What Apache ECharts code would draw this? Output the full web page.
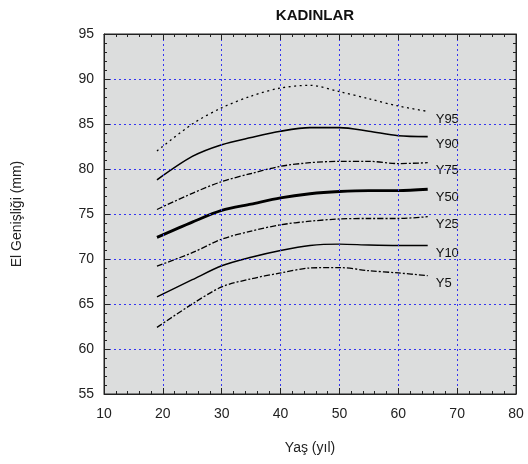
<!DOCTYPE html>
<html>
<head>
<meta charset="utf-8">
<script src="https://cdn.jsdelivr.net/npm/echarts@6/dist/echarts.min.js"></script>
<style>
  html, body { margin: 0; padding: 0; background: #fff; }
  #chart { width: 528px; height: 464px; }
</style>
</head>
<body>
<div id="chart"></div>
<script>
// yaş noktaları
var ages = [19, 25, 30, 35, 40, 45, 50, 55, 60, 65]
// persentil eğrileri (mm)
var y95 = [82.0, 85.0, 86.8, 88.1, 89.0, 89.3, 88.6, 87.8, 87.0, 86.4]
var y90 = [78.8, 81.4, 82.7, 83.5, 84.2, 84.6, 84.6, 84.2, 83.7, 83.6]
var y75 = [75.5, 77.3, 78.6, 79.5, 80.3, 80.7, 80.85, 80.85, 80.6, 80.7]
var y50 = [72.4, 74.1, 75.4, 76.1, 76.8, 77.25, 77.5, 77.6, 77.6, 77.75]
var y25 = [69.2, 70.7, 72.2, 73.1, 73.8, 74.2, 74.45, 74.5, 74.5, 74.7]
var y10 = [65.8, 67.7, 69.25, 70.2, 70.95, 71.5, 71.65, 71.55, 71.5, 71.5]
var y5 = [62.4, 65.0, 66.9, 67.8, 68.45, 69.0, 69.05, 68.7, 68.45, 68.15]

var font = 'Liberation Sans, Arial, sans-serif'

function pairs(vals) {
    return ages.map(function (a, i) { return [a, vals[i]] })
}

// çizgi tipi ve kalınlığı
function curve(name, vals, width, dash) {
    return {
        name: name,
        type: 'line',
        data: pairs(vals),
        smooth: 0.3,
        symbol: 'none',
        lineStyle: { color: '#000', width: width, type: dash },
        endLabel: {
            show: true,
            formatter: name,
            color: '#111',
            fontFamily: font,
            fontSize: 13,
            offset: [0, 8]
        },
        z: 5
    }
}

function axisBase(pos, min, max, interval, showLabel) {
    return {
        type: 'value',
        position: pos,
        min: min,
        max: max,
        interval: interval,
        axisLine: { show: true, onZero: false, lineStyle: { color: '#222', width: 1 } },
        axisTick: { show: true, inside: true, length: 6, lineStyle: { color: '#222', width: 1 } },
        minorTick: { show: true, splitNumber: 5, length: 3, lineStyle: { color: '#222', width: 1 } },
        axisLabel: {
            show: showLabel,
            color: '#222',
            fontFamily: font,
            fontSize: 14,
            margin: 10
        },
        splitLine: { show: false },
        z: 10
    }
}

var gridLine = { show: true, lineStyle: { color: '#3535f0', type: [2, 3], width: 1 } }

var xBottom = axisBase('bottom', 10, 80, 10, true)
xBottom.name = 'Yaş (yıl)'
xBottom.nameLocation = 'middle'
xBottom.nameGap = 47
xBottom.nameTextStyle = { color: '#222', fontFamily: font, fontSize: 14 }
xBottom.splitLine = gridLine
xBottom.axisLabel.margin = 13

var xTop = axisBase('top', 10, 80, 10, false)

var yLeft = axisBase('left', 55, 95, 5, true)
yLeft.name = 'El Genişliği (mm)'
yLeft.nameLocation = 'middle'
yLeft.nameGap = 80
yLeft.nameTextStyle = { color: '#222', fontFamily: font, fontSize: 14 }
yLeft.splitLine = gridLine

var yRight = axisBase('right', 55, 95, 5, false)

var chart = echarts.init(document.getElementById('chart'))
chart.setOption({
    animation: false,
    title: {
        text: 'KADINLAR',
        left: 310,
        textAlign: 'center',
        top: 3,
        textStyle: { fontFamily: font, fontSize: 15, fontWeight: 'bold', color: '#111' }
    },
    grid: {
        left: 104,
        right: 12,
        top: 34,
        bottom: 70,
        show: true,
        backgroundColor: '#dcdddd',
        borderColor: '#222',
        borderWidth: 1
    },
    xAxis: [xBottom, xTop],
    yAxis: [yLeft, yRight],
    series: [
        curve('Y95', y95, 1.3, [2, 3.5]),
        curve('Y90', y90, 1.6, 'solid'),
        curve('Y75', y75, 1.3, [6, 2, 2, 2]),
        curve('Y50', y50, 2.8, 'solid'),
        curve('Y25', y25, 1.3, [6, 2, 2, 2]),
        curve('Y10', y10, 1.4, 'solid'),
        curve('Y5', y5, 1.3, [6, 2, 2, 2])
    ]
})
</script>
</body>
</html>
